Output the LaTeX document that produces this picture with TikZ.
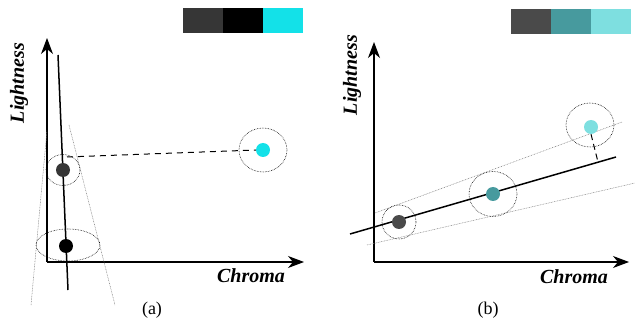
\documentclass[tikz,border=0pt]{standalone}
\usepackage{fontspec}
\setmainfont{Liberation Serif}
\usepackage{xcolor}
\usetikzlibrary{arrows.meta, positioning}

\definecolor{swdark}{HTML}{363636}
\definecolor{swcyan}{HTML}{13E1E8}
\definecolor{swgrey}{HTML}{4A4A4A}
\definecolor{swteal}{HTML}{479A9E}
\definecolor{swlight}{HTML}{7EDFE0}

\begin{document}
\begin{tikzpicture}[x=1pt, y=-1pt,
    axis/.style={-{Stealth[length=16pt, width=12pt, inset=5pt]}, line width=1.1pt},
    fit/.style={line width=1.5pt},
    bound/.style={gray, line width=0.5pt, dash pattern=on 0.8pt off 0.8pt},
    halo/.style={draw, densely dotted, line width=0.6pt, fill=none},
    dot/.style={circle, inner sep=0pt, minimum size=14pt},
    swatch/.style={rectangle, inner sep=0pt, minimum width=39.6pt, minimum height=25pt},
    axlabel/.style={font=\fontsize{20}{22}\selectfont\bfseries\itshape},
    caption/.style={font=\fontsize{18}{20}\selectfont}]

    \useasboundingbox (0,0) rectangle (635,326);

    % (a)
    \node (a1) [swatch, fill=swdark] at (203,21) {};
    \node (a2) [swatch, fill=black, right=0pt of a1] {};
    \node (a3) [swatch, fill=swcyan, right=0pt of a2] {};

    \coordinate (ao) at (47,262);
    \coordinate (ay) at (47,38);
    \coordinate (ax) at (304,262);
    \draw [axis] (ao) -- (ay);
    \draw [axis] (ao) -- (ax);
    \node (alab) [axlabel, rotate=90] at (19,83) {Lightness};
    \node (aclab) [axlabel] at (251,276) {Chroma};

    \coordinate (al1) at (31,305);
    \coordinate (al2) at (47,130);
    \coordinate (ar1) at (69,125);
    \coordinate (ar2) at (115,305);
    \draw [bound] (al1) -- (al2);
    \draw [bound] (ar1) -- (ar2);

    \coordinate (af1) at (58,55);
    \coordinate (af2) at (68,290);
    \draw [fit] (af1) -- (af2);

    \draw [halo] (63,170) ellipse (17 and 15.5);
    \draw [halo] (68,245) ellipse (32 and 16);
    \draw [halo] (263,150) ellipse (24 and 22);

    \node (ag) [dot, fill=swdark] at (63,170) {};
    \node (ab) [dot, fill=black] at (66,246) {};
    \node (ac) [dot, fill=swcyan] at (263,150) {};

    \coordinate (ad) at (67,157);
    \draw [line width=1pt, dash pattern=on 6pt off 5pt] (ad) -- (ac.west);

    \node (acap) [caption] at (152,310) {(a)};

    % (b)
    \node (b1) [swatch, fill=swgrey] at (531,21.5) {};
    \node (b2) [swatch, fill=swteal, right=0pt of b1] {};
    \node (b3) [swatch, fill=swlight, right=0pt of b2] {};

    \coordinate (bo) at (374,262);
    \coordinate (by) at (374,42);
    \coordinate (bx) at (629,262);
    \draw [axis] (bo) -- (by);
    \draw [axis] (bo) -- (bx);
    \node (blab) [axlabel, rotate=90] at (352,75) {Lightness};
    \node (bclab) [axlabel] at (574,277) {Chroma};

    \coordinate (bu1) at (375,213);
    \coordinate (bu2) at (622,122);
    \coordinate (bw1) at (367,245);
    \coordinate (bw2) at (635,183);
    \draw [bound] (bu1) -- (bu2);
    \draw [bound] (bw1) -- (bw2);

    \coordinate (bf1) at (350,234);
    \coordinate (bf2) at (616,157);
    \draw [fit] (bf1) -- (bf2);

    \draw [halo] (399,222) circle (17);
    \draw [halo] (493,194) ellipse (24 and 22.5);
    \draw [halo] (590,125) ellipse (24 and 22);

    \node (bg) [dot, fill=swgrey] at (399,222) {};
    \node (bt) [dot, fill=swteal] at (493,194) {};
    \node (bl) [dot, fill=swlight] at (591,127) {};

    \coordinate (bd) at (598,162);
    \draw [line width=1pt, dash pattern=on 6pt off 4pt] (bl.south) -- (bd);

    \node (bcap) [caption] at (488,310) {(b)};

\end{tikzpicture}
\end{document}
